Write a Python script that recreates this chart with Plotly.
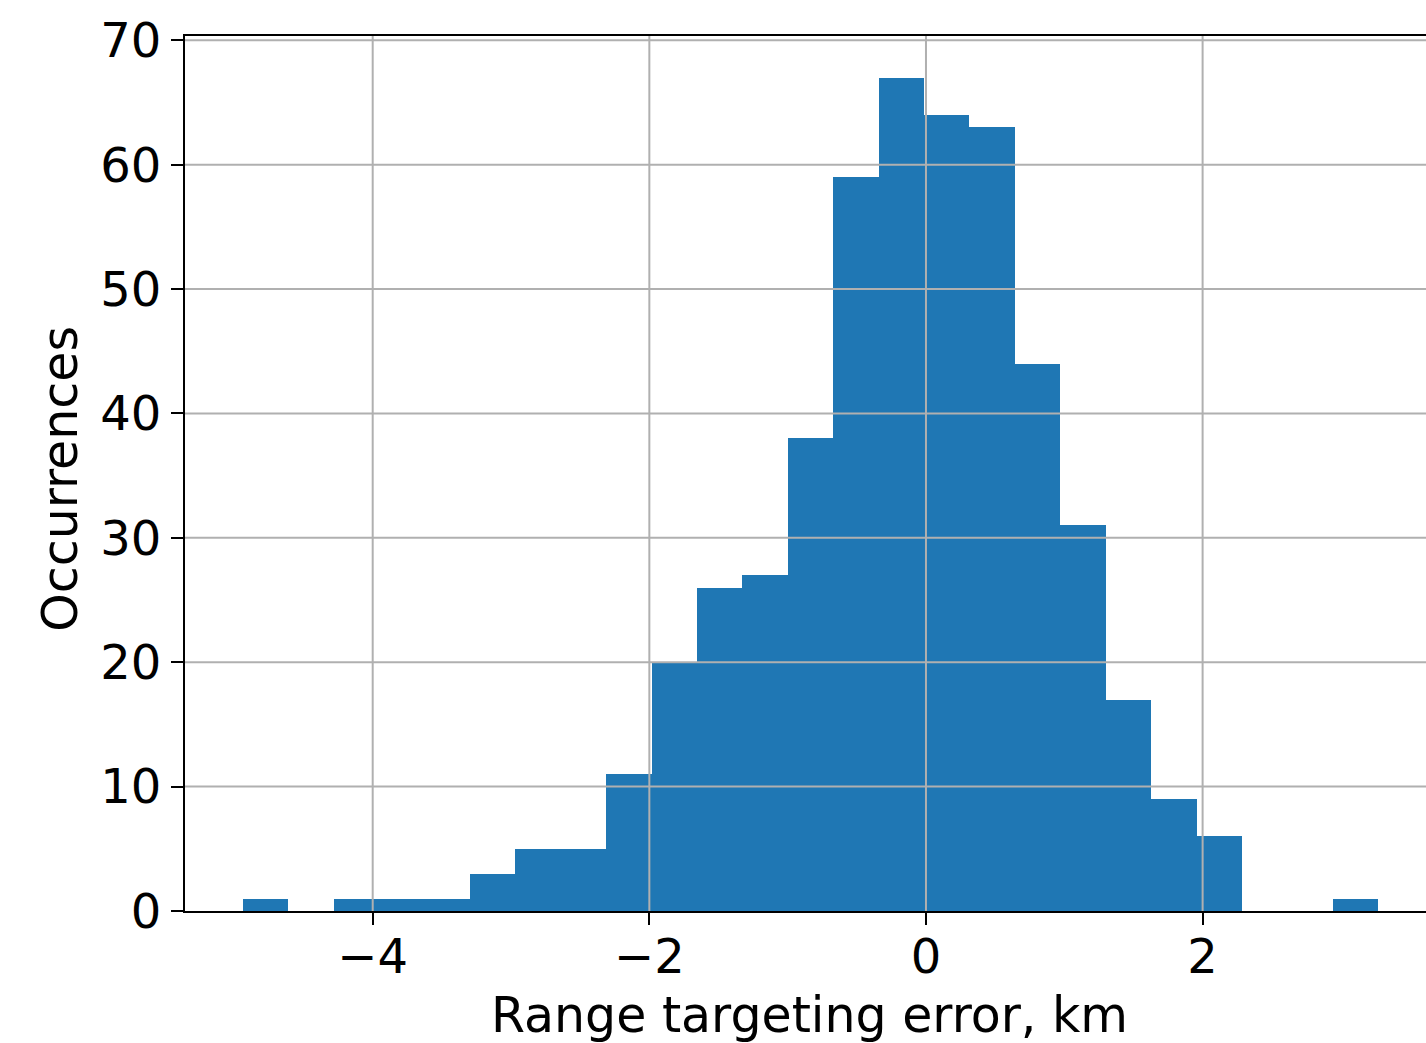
import numpy as np
import plotly.graph_objects as go

# Histogram data
bin_start = -4.94
bin_width = 0.3284
counts = [1, 0, 1, 1, 1, 3, 5, 5, 11, 20, 26, 27, 38, 59, 67, 64, 63, 44, 31, 17, 9, 6, 0, 0, 1]

x_tick_vals = [-4, -2, 0, 2]
x_tick_text = ["\u22124", "\u22122", "0", "2"]
y_tick_vals = [0, 10, 20, 30, 40, 50, 60, 70]
y_tick_text = ["0", "10", "20", "30", "40", "50", "60", "70"]

x_label = "Range targeting error, km"
y_label = "Occurrences"

centers = bin_start + bin_width * (np.arange(len(counts)) + 0.5)

FONT = "DejaVu Sans"
FS = 48
TFS = 49
GRID = "#b0b0b0"

fig = go.Figure()
fig.add_trace(go.Bar(x=centers, y=counts, width=bin_width,
                     marker=dict(color="#1f77b4", line=dict(width=0)),
                     showlegend=False))

shapes = []
for v in x_tick_vals:
    shapes.append(dict(type="line", xref="x", yref="paper", x0=v, x1=v, y0=0, y1=1,
                       line=dict(color=GRID, width=2), layer="above"))
for v in y_tick_vals[1:]:
    shapes.append(dict(type="line", xref="paper", yref="y", x0=0, x1=1, y0=v, y1=v,
                       line=dict(color=GRID, width=2), layer="above"))

fig.update_layout(
    width=1426, height=1043,
    margin=dict(l=185, r=0, t=36, b=132),
    paper_bgcolor="white", plot_bgcolor="white",
    font=dict(family=FONT, size=FS, color="black"),
    shapes=shapes,
    bargap=0,
    annotations=[
        dict(text=x_label, xref="paper", yref="paper", x=0.5036, y=0.0, yshift=-104,
             xanchor="center", yanchor="middle", showarrow=False,
             font=dict(family=FONT, size=TFS, color="black")),
        dict(text=y_label, xref="paper", yref="paper", x=0, xshift=-124, y=0.494,
             xanchor="center", yanchor="middle", textangle=-90, showarrow=False,
             font=dict(family=FONT, size=TFS, color="black")),
    ],
)
fig.update_xaxes(range=[-5.357, 3.615], showgrid=False, zeroline=False,
                 showline=True, linecolor="black", linewidth=2, mirror=True,
                 ticks="outside", ticklen=12, tickwidth=2, tickcolor="black",
                 tickvals=x_tick_vals, ticktext=x_tick_text, ticklabelstandoff=-10,
                 tickfont=dict(family=FONT, size=FS, color="black"), layer="above traces")
fig.update_yaxes(range=[0, 70.35], showgrid=False, zeroline=False,
                 showline=True, linecolor="black", linewidth=2, mirror=False,
                 ticks="outside", ticklen=12, tickwidth=2, tickcolor="black",
                 tickvals=y_tick_vals, ticktext=y_tick_text,
                 tickfont=dict(family=FONT, size=FS, color="black"), layer="above traces")

fig.write_html("out.html")
